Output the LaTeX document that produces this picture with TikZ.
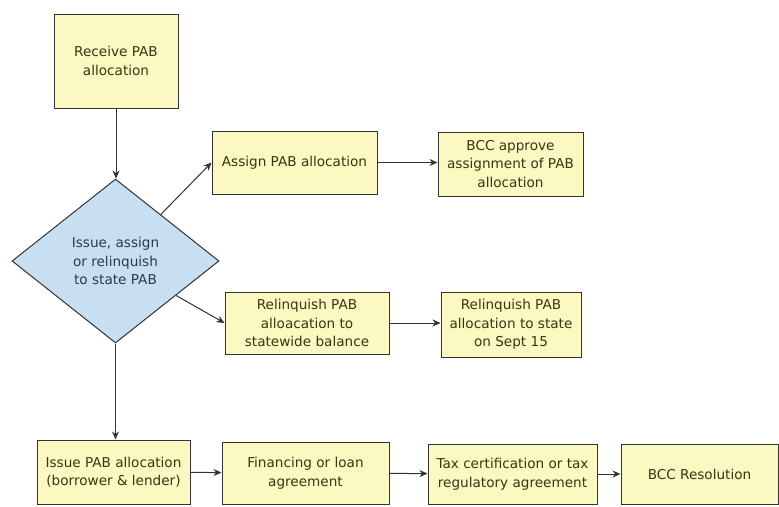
\documentclass[tikz,border=0pt]{standalone}
\usepackage{fontspec}
\setmainfont{DejaVu Sans}
\usetikzlibrary{shapes.geometric,arrows.meta}
\definecolor{boxfill}{HTML}{FCF8C2}
\definecolor{boxtext}{HTML}{3A3410}
\definecolor{diafill}{HTML}{C8DFF2}
\definecolor{diatext}{HTML}{2E3A44}
\definecolor{edge}{HTML}{333333}
\begin{document}
\begin{tikzpicture}[x=1pt,y=-1pt,
  font=\fontsize{13.6}{18.5}\selectfont,
  box/.style={draw=edge,line width=1pt,fill=boxfill,text=boxtext,align=center,inner sep=1pt},
  dia/.style={diamond,draw=edge,line width=1pt,fill=diafill,text=diatext,align=center,inner sep=0pt,
    minimum width=207pt,minimum height=164pt},
  conn/.style={draw=edge,line width=1pt,-{Stealth[length=8pt,width=7pt]}}]
\useasboundingbox (0,0) rectangle (779,506);
\fill[white] (0,0) rectangle (779,506);
% nodes
\node[box,minimum width=124pt,minimum height=94pt] (recv) at (116,61) {Receive PAB\\allocation};
\node[dia] (dia) at (115.5,261) {Issue, assign\\or relinquish\\to state PAB};
\node[box,minimum width=165pt,minimum height=63pt] (assign) at (294.5,162.5) {Assign PAB allocation};
\node[box,minimum width=145pt,minimum height=64pt] (bcca) at (510.5,164) {BCC approve\\assignment of PAB\\allocation};
\node[box,minimum width=164pt,minimum height=62pt] (rel1) at (307,323) {Relinquish PAB\\alloacation to\\statewide balance};
\node[box,minimum width=140pt,minimum height=65pt] (rel2) at (511,324.5) {Relinquish PAB\\allocation to state\\on Sept 15};
\node[box,minimum width=153pt,minimum height=64pt] (issue) at (113.5,472) {Issue PAB allocation\\(borrower \& lender)};
\node[box,minimum width=167pt,minimum height=62pt] (fin) at (305.5,473) {Financing or loan\\agreement};
\node[box,minimum width=169pt,minimum height=60pt] (tax) at (512.5,474) {Tax certification or tax\\regulatory agreement};
\node[box,minimum width=157pt,minimum height=60pt] (bccr) at (699.5,474) {BCC Resolution};
% connectors
\draw[conn] (recv.south) -- (recv.south |- dia.north);
\draw[conn] (dia) -- (assign.west);
\draw[conn] (dia) -- (rel1.west);
\draw[conn] (assign.east) -- (assign.east -| bcca.west);
\draw[conn] (rel1.east) -- (rel1.east -| rel2.west);
\draw[conn] (dia.south) -- (dia.south |- issue.north);
\draw[conn] (issue) -- (fin);
\draw[conn] (fin) -- (tax);
\draw[conn] (tax) -- (bccr);
\end{tikzpicture}
\end{document}
